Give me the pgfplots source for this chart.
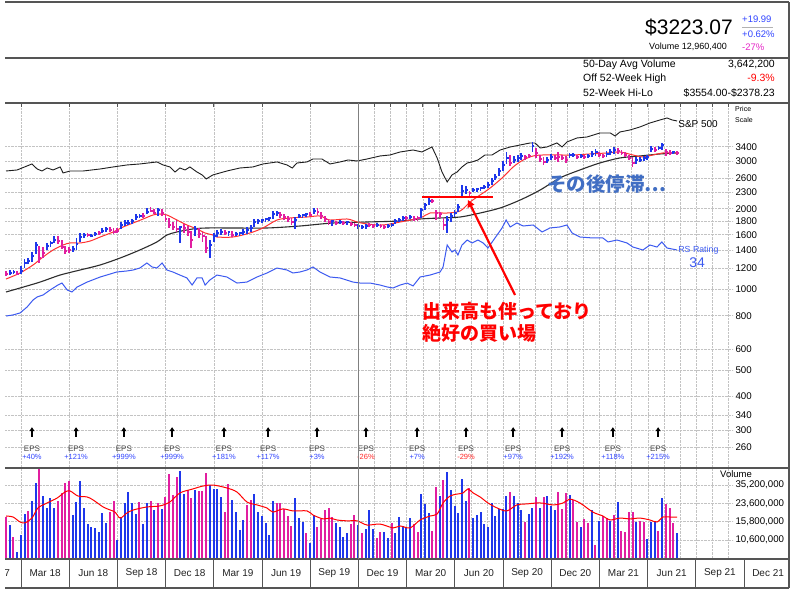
\documentclass[border=0pt]{standalone}
\usepackage{pgfplots}
\pgfplotsset{compat=1.18}
\usepackage{pgfplotstable}
\usepackage{fontspec}
\setmainfont{Liberation Sans}
\newfontfamily\jp{Noto Sans CJK JP}
\usetikzlibrary{arrows.meta}

\definecolor{upc}{RGB}{30,55,235}
\definecolor{dnc}{RGB}{225,30,160}
\definecolor{mared}{RGB}{255,50,50}
\definecolor{madark}{RGB}{45,45,45}
\definecolor{spx}{RGB}{30,30,30}
\definecolor{rsblue}{RGB}{60,90,240}
\definecolor{gridc}{RGB}{195,195,195}
\definecolor{framec}{RGB}{85,85,85}
\definecolor{epsblue}{RGB}{50,70,255}
\definecolor{epsred}{RGB}{255,40,40}
\definecolor{epsgray}{RGB}{70,70,70}
\definecolor{annored}{RGB}{255,0,0}
\definecolor{annoblue}{RGB}{65,110,195}
\definecolor{pinkc}{RGB}{230,40,200}

\pgfplotstableread{
w h l c u
0 1173 1124 1143 0
1 1183 1133 1153 1
2 1183 1143 1163 1
3 1173 1133 1143 0
4 1224 1143 1173 1
5 1300 1203 1256 1
6 1311 1245 1278 1
7 1380 1267 1334 1
8 1504 1357 1465 1
9 1453 1256 1311 0
10 1440 1311 1368 0
11 1491 1404 1453 1
12 1516 1440 1491 1
13 1583 1491 1529 1
14 1583 1478 1516 0
15 1529 1416 1440 0
16 1453 1357 1392 0
17 1440 1368 1404 0
18 1453 1380 1416 1
19 1556 1404 1478 1
20 1624 1504 1569 1
21 1624 1556 1596 1
22 1624 1569 1596 0
23 1610 1569 1583 1
24 1638 1583 1610 1
25 1652 1596 1624 0
26 1695 1624 1652 1
27 1710 1638 1681 1
28 1710 1638 1666 0
29 1695 1610 1638 0
30 1695 1624 1652 0
31 1784 1681 1739 1
32 1815 1724 1769 1
33 1815 1739 1769 1
34 1831 1754 1800 1
35 1911 1815 1862 1
36 1911 1847 1878 1
37 1927 1847 1878 0
38 2012 1911 1944 1
39 2029 1944 1961 0
40 1995 1911 1927 0
41 2012 1878 1978 1
42 1995 1878 1927 0
43 1911 1784 1831 0
44 1847 1695 1739 0
45 1784 1666 1710 0
46 1815 1638 1681 0
47 1724 1491 1710 1
48 1754 1624 1695 0
49 1724 1583 1638 0
50 1652 1428 1529 0
51 1724 1583 1681 1
52 1695 1556 1610 0
53 1638 1504 1583 0
54 1583 1368 1428 0
55 1529 1311 1465 1
56 1624 1504 1583 1
57 1666 1569 1624 1
58 1681 1596 1638 1
59 1666 1596 1624 0
60 1652 1583 1638 1
61 1652 1569 1596 0
62 1638 1583 1610 1
63 1638 1583 1624 1
64 1681 1596 1638 1
65 1710 1610 1666 1
66 1739 1638 1695 1
67 1831 1710 1784 1
68 1831 1754 1800 1
69 1831 1769 1815 1
70 1847 1784 1831 1
71 1862 1800 1847 1
72 1961 1831 1911 1
73 1961 1878 1927 1
74 1944 1847 1895 0
75 1911 1815 1862 0
76 1878 1784 1831 0
77 1847 1739 1784 0
78 1862 1681 1815 1
79 1911 1847 1878 1
80 1911 1847 1895 1
81 1927 1862 1911 1
82 1944 1878 1895 0
83 2012 1911 1961 1
84 2012 1895 1944 0
85 1944 1831 1878 0
86 1878 1784 1831 0
87 1831 1739 1784 0
88 1815 1724 1800 1
89 1800 1739 1769 0
90 1815 1754 1784 1
91 1800 1739 1769 0
92 1800 1739 1784 1
93 1784 1724 1754 0
94 1769 1710 1739 0
95 1754 1681 1724 1
96 1739 1681 1710 1
97 1754 1681 1724 1
98 1769 1710 1739 0
99 1754 1695 1724 0
100 1769 1710 1739 1
101 1754 1695 1724 0
102 1739 1681 1710 0
103 1754 1695 1724 1
104 1769 1710 1739 1
105 1831 1754 1800 1
106 1847 1784 1815 1
107 1878 1800 1847 1
108 1878 1815 1847 0
109 1895 1831 1862 1
110 1878 1800 1831 0
111 1878 1800 1847 0
112 2012 1847 1978 1
113 2100 1978 2064 1
114 2192 2064 2136 1
115 2173 2100 2136 0
116 1978 1815 1927 0
117 1944 1847 1911 0
118 1847 1666 1739 0
119 1878 1624 1815 1
120 1927 1784 1878 1
121 1978 1862 1927 1
122 2082 1944 2029 1
123 2450 2192 2327 1
124 2429 2268 2347 1
125 2327 2229 2287 0
126 2387 2307 2347 1
127 2387 2307 2367 1
128 2408 2327 2387 1
129 2450 2367 2408 1
130 2513 2387 2450 1
131 2601 2450 2535 1
132 2691 2557 2623 1
133 2833 2646 2761 1
134 3008 2761 2907 1
135 3249 2932 3087 1
136 3167 2882 2957 0
137 3140 2957 3034 1
138 3167 2983 3087 1
139 3222 3034 3140 1
140 3167 3034 3113 0
141 3194 3087 3140 0
142 3554 3249 3421 1
143 3362 3087 3222 0
144 3167 2983 3060 0
145 3113 2907 2983 0
146 3113 2957 3034 1
147 3194 3034 3113 1
148 3167 3034 3087 0
149 3249 2983 3113 0
150 3167 3034 3087 0
151 3140 2957 3034 0
152 3222 3087 3167 1
153 3222 3113 3167 1
154 3167 3060 3113 0
155 3194 3087 3140 1
156 3167 3060 3113 0
157 3194 3087 3140 1
158 3277 3113 3194 1
159 3334 3140 3249 1
160 3249 3113 3167 0
161 3194 3087 3140 0
162 3277 3113 3194 1
163 3334 3167 3249 1
164 3391 3194 3305 1
165 3362 3194 3277 0
166 3305 3167 3222 0
167 3249 3113 3167 0
168 3167 3034 3087 0
169 3113 2858 2957 0
170 3113 2932 3034 1
171 3113 2983 3034 1
172 3140 3008 3087 1
173 3167 3034 3113 1
174 3421 3249 3334 1
175 3391 3249 3305 0
176 3421 3305 3362 1
177 3510 3305 3450 1
178 3334 3140 3249 0
179 3305 3167 3222 0
180 3277 3194 3249 1
181 3277 3167 3223 0
}\bars

\pgfplotstableread{
w v u
0 17.5 0
1 14.7 1
2 11.3 0
3 8.2 1
4 11.8 1
5 18.7 1
6 20.0 0
7 24.8 1
8 36.8 1
9 49.9 0
10 27.7 1
11 21.3 1
12 26.5 1
13 21.3 1
14 24.8 0
15 29.6 0
16 36.8 0
17 38.4 0
18 18.3 1
19 24.3 1
20 38.4 1
21 21.3 1
22 15.0 1
23 14.1 1
24 13.8 1
25 12.6 1
26 19.1 1
27 15.4 1
28 19.5 0
29 24.8 0
30 10.6 1
31 17.5 1
32 23.8 1
33 30.2 1
34 23.8 1
35 18.7 1
36 24.3 0
37 15.0 1
38 23.8 1
39 24.8 0
40 20.4 1
41 23.8 0
42 20.9 1
43 27.1 0
44 44.8 0
45 28.3 0
46 41.9 0
47 47.8 1
48 28.9 1
49 31.6 0
50 26.5 0
51 31.6 1
52 30.9 0
53 30.9 0
54 45.8 0
55 35.2 1
56 32.3 1
57 32.3 1
58 27.1 1
59 19.5 0
60 36.0 0
61 25.4 1
62 19.5 1
63 13.2 1
64 16.4 1
65 22.8 0
66 25.4 0
67 28.9 1
68 19.5 1
69 17.9 1
70 15.4 1
71 11.8 1
72 24.8 1
73 23.8 0
74 23.8 0
75 20.9 0
76 17.9 0
77 14.4 0
78 26.5 1
79 17.1 1
80 15.7 1
81 12.3 0
82 9.9 1
83 18.3 1
84 14.1 0
85 16.8 0
86 20.4 0
87 21.3 0
88 17.5 0
89 15.4 1
90 14.1 1
91 11.3 1
92 12.3 1
93 15.0 0
94 18.3 0
95 14.7 1
96 12.3 0
97 13.5 1
98 20.4 1
99 13.5 1
100 11.1 0
101 12.6 0
102 12.6 1
103 11.1 1
104 15.4 0
105 12.3 1
106 17.5 1
107 14.4 1
108 13.8 1
109 17.1 1
110 15.0 0
111 12.6 0
112 28.9 1
113 23.3 1
114 19.1 1
115 12.9 0
116 33.7 0
117 27.7 1
118 39.3 0
119 46.8 1
120 31.6 1
121 22.3 1
122 19.1 1
123 40.2 1
124 24.8 1
125 33.0 0
126 17.1 1
127 18.3 1
128 19.5 1
129 15.0 1
130 14.1 1
131 23.8 1
132 17.9 1
133 20.9 1
134 20.9 1
135 27.7 1
136 30.2 0
137 27.7 1
138 23.8 1
139 20.4 1
140 15.7 0
141 18.7 1
142 21.3 1
143 27.1 0
144 21.3 1
145 27.1 0
146 27.7 1
147 22.3 1
148 20.4 1
149 30.2 0
150 20.9 0
151 29.6 0
152 28.3 1
153 25.4 0
154 15.7 0
155 14.1 1
156 16.8 0
157 15.4 0
158 20.4 1
159 9.5 0
160 16.1 1
161 17.9 0
162 17.1 0
163 16.1 1
164 18.3 0
165 24.3 1
166 12.9 0
167 12.6 0
168 19.5 0
169 19.5 0
170 15.7 1
171 16.1 0
172 15.7 0
173 10.8 1
174 15.7 1
175 15.7 1
176 12.9 0
177 26.5 1
178 23.3 0
179 21.3 0
180 15.4 0
181 12.3 1
}\vol

\newcommand\eps[3]{%
  \draw[-{Triangle[width=5pt,length=4pt]}, line width=1.8pt] (axis cs:#1,284) -- (axis cs:#1,308);
  \node[inner sep=0pt, font=\fontsize{8}{9}\selectfont, text=epsgray] at (axis cs:#1,257) {EPS};
  \node[inner sep=0pt, font=\fontsize{7.5}{8}\selectfont, text=#3] at (axis cs:#1,238) {#2};}

\begin{document}
\begin{tikzpicture}[x=1pt,y=1pt]
\useasboundingbox (0,0) rectangle (800,593);
\fill[white] (0,0) rectangle (800,593);

% ---------------- price panel ----------------
\begin{axis}[
  at={(5pt,125pt)}, anchor=south west, scale only axis,
  width=728pt, height=365pt,
  xmin=-0.27, xmax=196.1,
  ymode=log, ymin=217.2, ymax=4942,
  axis line style={draw=none},
  xtick={4.05,17.05,30.06,43.06,56.07,69.08,82.08,95.09,99.42,103.76,108.09,112.43,116.76,121.10,125.43,129.77,134.10,138.44,142.77,147.11,151.44,155.78,160.12,164.45,168.79,173.12,177.46,181.79,186.13,190.46,194.80},
  xticklabels={}, xtick pos=right, tick align=inside, major tick length=4pt,
  xtick style={framec, line width=0.8pt},
  ytick={260,300,340,400,500,600,800,1000,1200,1400,1600,1800,2000,2300,2600,3000,3400},
  yticklabels={260,300,340,400,500,600,800,1000,1200,1400,1600,1800,2000,2300,2600,3000,3400},
  yticklabel pos=right, ytick style={draw=none},
  yticklabel style={anchor=west, font=\fontsize{9.7}{10}\selectfont, xshift=-1pt},
  xmajorgrids, ymajorgrids,
  grid style={gridc, densely dotted, line width=0.6pt},
]
\addplot[spx, line width=0.9pt] coordinates {(0,2761)(3.0,2785)(7.0,2932)(8.4,2809)(9.7,2761)(11.1,2833)(12.7,2785)(14.6,2858)(15.4,2715)(17.3,2761)(20.8,2761)(25.4,2809)(28.9,2858)(32.6,2907)(36.1,2932)(40.7,2983)(42.4,2907)(44.2,2858)(45.6,2738)(46.9,2833)(48.3,2785)(49.6,2858)(51.5,2738)(52.9,2669)(54.0,2579)(55.8,2669)(59.6,2761)(63.1,2833)(66.6,2858)(69.3,2932)(73.1,2983)(75.8,2907)(77.2,2833)(78.5,2957)(81.2,2983)(82.8,3060)(85.2,3060)(87.4,2932)(90.1,2983)(92.3,3034)(94.7,3008)(97.4,3060)(100.9,3140)(103.6,3167)(106.3,3249)(109.8,3305)(112.2,3249)(114.9,3391)(116.3,3087)(117.6,2738)(119.0,2513)(120.3,2669)(121.7,2738)(123.0,2858)(124.4,2957)(125.7,2983)(127.3,3034)(129.2,3167)(131.1,3167)(133.3,3305)(136.0,3391)(138.7,3450)(141.4,3510)(142.7,3510)(144.1,3362)(145.9,3391)(148.6,3510)(150.0,3391)(151.3,3540)(154.0,3663)(156.7,3694)(160.2,3823)(163.0,3823)(164.3,3726)(165.6,3856)(168.3,3923)(171.0,4025)(173.7,4165)(176.4,4273)(178.3,4347)(179.7,4273)(181.0,4237)};
\addplot[rsblue, line width=1.0pt] coordinates {(0,798)(1.9,805)(3.8,819)(5.7,862)(7.3,915)(8.4,939)(10.0,955)(11.9,997)(14.0,1040)(15.1,1058)(16.5,997)(17.8,980)(19.2,1023)(21.9,1067)(25.4,1114)(28.1,1143)(29.9,1163)(32.6,1173)(34.3,1183)(36.1,1203)(38.0,1256)(39.4,1214)(40.7,1203)(42.1,1256)(43.4,1183)(45.0,1163)(46.9,1133)(48.8,1105)(50.2,1040)(51.5,1105)(52.9,1105)(53.7,1040)(55.0,1086)(56.9,1133)(59.6,1114)(62.3,1058)(65.0,1067)(67.7,1114)(70.4,1153)(73.1,1203)(75.8,1183)(77.4,1153)(79.3,1163)(81.2,1183)(82.8,1214)(84.7,1163)(87.4,1114)(90.1,1105)(93.6,1067)(95.5,1058)(98.2,1058)(100.9,1040)(102.8,1023)(104.4,1014)(106.3,1040)(108.2,1058)(109.8,1032)(111.7,1114)(114.4,1133)(117.1,1163)(117.9,1214)(119.0,1465)(120.3,1380)(121.1,1404)(121.9,1345)(123.0,1465)(124.4,1529)(125.7,1491)(127.3,1529)(128.7,1491)(130.0,1428)(131.9,1556)(133.8,1695)(134.9,1815)(136.0,1710)(137.8,1769)(139.5,1724)(142.2,1739)(144.6,1638)(146.7,1695)(149.4,1710)(151.3,1739)(152.7,1624)(154.8,1569)(158.3,1556)(161.0,1556)(162.4,1504)(164.8,1529)(167.5,1491)(169.1,1440)(171.8,1404)(173.7,1465)(175.6,1440)(176.9,1504)(178.3,1428)(181.0,1404)};
\addplot[madark, line width=1.1pt, smooth] coordinates {(0,980)(3.8,1014)(9.2,1067)(14.6,1133)(20.0,1183)(25.4,1235)(30.8,1311)(36.1,1404)(40.7,1504)(43.4,1596)(46.1,1638)(50.4,1681)(54.2,1695)(61.2,1695)(70.4,1695)(79.3,1724)(88.2,1769)(97.4,1784)(106.3,1800)(111.7,1831)(117.1,1847)(122.5,1862)(127.9,1927)(133.3,2012)(138.7,2154)(144.1,2347)(149.4,2601)(154.8,2785)(160.2,2957)(165.6,3087)(171.0,3140)(176.4,3194)(181.0,3222)};
\addplot[mared, line width=1.0pt, smooth] coordinates {(0,1095)(3.8,1153)(7.3,1235)(10.0,1322)(12.7,1404)(15.4,1465)(17.3,1491)(20.0,1491)(22.7,1516)(25.4,1569)(28.9,1638)(31.6,1710)(34.3,1769)(37.0,1831)(39.7,1895)(41.5,1911)(43.4,1895)(46.1,1815)(48.8,1739)(51.5,1681)(53.7,1624)(55.8,1596)(56.9,1569)(61.2,1569)(65.8,1624)(69.3,1695)(73.1,1815)(76.6,1847)(81.2,1862)(84.7,1878)(87.4,1815)(92.0,1831)(94.7,1784)(97.4,1754)(101.7,1739)(106.3,1784)(111.7,1847)(114.4,1927)(119.0,1927)(122.5,1961)(125.2,2118)(127.9,2249)(130.6,2387)(134.1,2623)(136.8,2858)(139.5,3034)(142.2,3140)(144.9,3167)(148.6,3167)(153.0,3167)(157.5,3194)(162.1,3222)(165.6,3249)(169.1,3167)(171.8,3113)(174.5,3167)(177.2,3222)(181.0,3222)};
\pgfplotsinvokeforeach{0,...,181}{%
  \pgfplotstablegetelem{#1}{h}\of\bars\let\bh\pgfplotsretval
  \pgfplotstablegetelem{#1}{l}\of\bars\let\bl\pgfplotsretval
  \pgfplotstablegetelem{#1}{c}\of\bars\let\bc\pgfplotsretval
  \pgfplotstablegetelem{#1}{u}\of\bars\let\bu\pgfplotsretval
  \pgfmathsetmacro\bwr{#1+0.55}%
  \ifnum\bu=1 \def\bcol{upc}\else\def\bcol{dnc}\fi
  \edef\tmp{\noexpand\addplot[\bcol,line width=1.8pt,forget plot] coordinates {(#1,\bl) (#1,\bh)};%
    \noexpand\addplot[\bcol,line width=1.4pt,forget plot] coordinates {(#1,\bc) (\bwr,\bc)};}%
  \tmp
}
\eps{7.0}{+40\%}{epsblue}
\eps{18.9}{+121\%}{epsblue}
\eps{31.8}{+999\%}{epsblue}
\eps{44.8}{+999\%}{epsblue}
\eps{58.8}{+181\%}{epsblue}
\eps{70.7}{+117\%}{epsblue}
\eps{83.9}{+3\%}{epsblue}
\eps{97.1}{-26\%}{epsred}
\eps{110.9}{+7\%}{epsblue}
\eps{124.1}{-29\%}{epsred}
\eps{136.8}{+97\%}{epsblue}
\eps{150.0}{+192\%}{epsblue}
\eps{163.7}{+118\%}{epsblue}
\eps{175.9}{+215\%}{epsblue}
\node[inner sep=0pt, anchor=west, font=\fontsize{10}{10}\selectfont] at (axis cs:181.3,4129) {S\&P 500};
\node[inner sep=0pt, anchor=west, font=\fontsize{8.8}{9}\selectfont, text=rsblue] at (axis cs:181.3,1404) {RS Rating};
\node[inner sep=0pt, font=\fontsize{14}{14}\selectfont, text=rsblue] at (axis cs:186.4,1256) {34};
\draw[annored, line width=2pt] (axis cs:112.2,2201) -- (axis cs:131.4,2201);
\draw[annored, line width=2.2pt, -{Triangle[width=7pt,length=7pt]}] (axis cs:137.3,955) -- (axis cs:124.6,2154);
\end{axis}

% ---------------- volume panel ----------------
\begin{axis}[
  at={(5pt,34pt)}, anchor=south west, scale only axis,
  width=728pt, height=91pt,
  xmin=-0.27, xmax=196.1,
  ymode=log, ymin=7.0, ymax=51.05, log origin y=infty,
  axis line style={draw=none},
  xtick={4.05,17.05,30.06,43.06,56.07,69.08,82.08,95.09,99.42,103.76,108.09,112.43,116.76,121.10,125.43,129.77,134.10,138.44,142.77,147.11,151.44,155.78,160.12,164.45,168.79,173.12,177.46,181.79,186.13,190.46,194.80},
  xticklabels={}, xtick style={draw=none},
  ytick={10.6,15.8,23.6,35.2},
  yticklabels={{10,600,000},{15,800,000},{23,600,000},{35,200,000}},
  yticklabel pos=right, ytick style={draw=none},
  yticklabel style={anchor=west, font=\fontsize{9.7}{10}\selectfont, xshift=-1pt},
  xmajorgrids, ymajorgrids,
  grid style={gridc, densely dotted, line width=0.6pt},
]
\addplot[ycomb, upc, line width=2pt, restrict expr to domain={\thisrow{u}}{1:1}] table[x=w, y=v] {\vol};
\addplot[ycomb, dnc, line width=2pt, restrict expr to domain={\thisrow{u}}{0:0}] table[x=w, y=v] {\vol};
\addplot[red, line width=1.0pt, smooth] coordinates {(0,17.9)(1.9,17.5)(3.8,15.7)(5.1,15.4)(7.0,17.1)(8.6,21.3)(11.1,23.8)(13.8,26.5)(15.9,30.2)(17.3,30.9)(19.4,27.7)(21.9,27.1)(23.5,25.4)(26.2,21.8)(28.1,20.4)(29.4,19.5)(30.8,17.1)(32.6,19.1)(34.3,20.4)(38.0,21.8)(41.5,22.3)(44.2,24.3)(46.9,29.6)(50.4,32.3)(53.1,34.4)(55.8,35.2)(59.6,33.0)(62.3,30.2)(65.0,24.3)(67.7,22.8)(70.4,21.3)(72.0,19.5)(74.7,20.9)(77.4,20.0)(81.2,20.0)(82.8,18.3)(85.5,16.8)(87.4,17.1)(89.3,16.4)(92.0,16.1)(94.7,16.1)(97.4,14.7)(100.9,15.0)(104.4,13.8)(106.3,14.4)(109.0,13.8)(111.7,16.4)(114.4,17.9)(116.3,18.7)(117.9,23.8)(119.8,27.7)(121.7,28.9)(123.3,29.6)(124.6,32.3)(126.0,29.6)(127.9,27.1)(130.0,23.8)(132.5,21.3)(135.1,20.0)(137.8,22.8)(140.5,23.3)(144.1,23.8)(147.6,22.8)(150.3,23.8)(152.1,25.9)(154.8,23.8)(158.3,19.5)(161.0,17.9)(162.9,16.4)(165.6,17.1)(168.3,16.8)(171.0,17.1)(173.7,16.4)(175.6,15.7)(177.2,17.5)(179.1,17.5)(181.0,17.5)};
\end{axis}

% ---------------- frame ----------------
\draw[framec, line width=1.2pt] (5,591) -- (789,591);
\draw[framec, line width=1.2pt] (5,535) -- (789,535);
\draw[framec, line width=1.2pt] (5,490) -- (789,490);
\draw[framec, line width=1.2pt] (5,125) -- (789,125);
\draw[framec, line width=1.2pt] (5,34) -- (789,34);
\draw[framec, line width=1.4pt] (5,5) -- (789,5);
\draw[framec, line width=1.2pt] (789,5) -- (789,591);
\draw[gray, line width=0.9pt] (358.4,34) -- (358.4,490);
\foreach \k in {0,...,15} {\draw[framec, line width=0.9pt] (21+48.2*\k,5) -- (21+48.2*\k,34);}
\begin{scope}
\clip (5,5) rectangle (789,34);
\node[inner sep=0pt, font=\fontsize{10}{12}\selectfont, text={rgb,255:red,35;green,35;blue,35}] at (-6,19.5) {Dec 17};
\foreach \k/\lab in {0/Mar 18,1/Jun 18,2/Sep 18,3/Dec 18,4/Mar 19,5/Jun 19,6/Sep 19,7/Dec 19,8/Mar 20,9/Jun 20,10/Sep 20,11/Dec 20,12/Mar 21,13/Jun 21,14/Sep 21,15/Dec 21}
  {\node[inner sep=0pt, font=\fontsize{10}{12}\selectfont, text={rgb,255:red,35;green,35;blue,35}] at (45.1+48.2*\k,19.5) {\lab};}
\end{scope}

% ---------------- header ----------------
\node[inner sep=0pt, anchor=base east, font=\fontsize{21}{21}\selectfont] at (733,558) {\$3223.07};
\node[inner sep=0pt, anchor=base east, font=\fontsize{9}{9}\selectfont] at (727,543) {Volume 12,960,400};
\node[inner sep=0pt, anchor=base west, font=\fontsize{9.5}{10}\selectfont, text=epsblue] at (742,570) {+19.99};
\draw[gray!60, line width=0.6pt] (742,566) -- (773,566);
\node[inner sep=0pt, anchor=base west, font=\fontsize{9.5}{10}\selectfont, text=epsblue] at (742,555) {+0.62\%};
\node[inner sep=0pt, anchor=base west, font=\fontsize{9.5}{10}\selectfont, text=pinkc] at (742,542) {-27\%};
\node[inner sep=0pt, anchor=base west, font=\fontsize{10.5}{11}\selectfont] at (583,525) {50-Day Avg Volume};
\node[inner sep=0pt, anchor=base east, font=\fontsize{10.5}{11}\selectfont] at (775,525) {3,642,200};
\node[inner sep=0pt, anchor=base west, font=\fontsize{10.5}{11}\selectfont] at (583,511) {Off 52-Week High};
\node[inner sep=0pt, anchor=base east, font=\fontsize{10.5}{11}\selectfont, text=red] at (775,511) {-9.3\%};
\node[inner sep=0pt, anchor=base west, font=\fontsize{10.5}{11}\selectfont] at (583,496) {52-Week Hi-Lo};
\node[inner sep=0pt, anchor=base east, font=\fontsize{10.5}{11}\selectfont] at (775,496) {\$3554.00-\$2378.23};
\node[inner sep=0pt, anchor=base west, font=\fontsize{7}{7}\selectfont] at (735,481) {Price};
\node[inner sep=0pt, anchor=base west, font=\fontsize{7}{7}\selectfont] at (735,470) {Scale};
\node[inner sep=0pt, anchor=base west, font=\fontsize{9.5}{10}\selectfont] at (720,115) {Volume};

% ---------------- annotations ----------------
\node[inner sep=0pt, anchor=west, font=\jp\bfseries\fontsize{19}{19}\selectfont, text=annored] at (422,282) {出来高も伴っており};
\node[inner sep=0pt, anchor=west, font=\jp\bfseries\fontsize{19}{19}\selectfont, text=annored] at (422,260) {絶好の買い場};
\node[inner sep=0pt, anchor=west, font=\jp\bfseries\fontsize{19.5}{20}\selectfont, text=annoblue] at (547,409) {その後停滞…};
\end{tikzpicture}
\end{document}
